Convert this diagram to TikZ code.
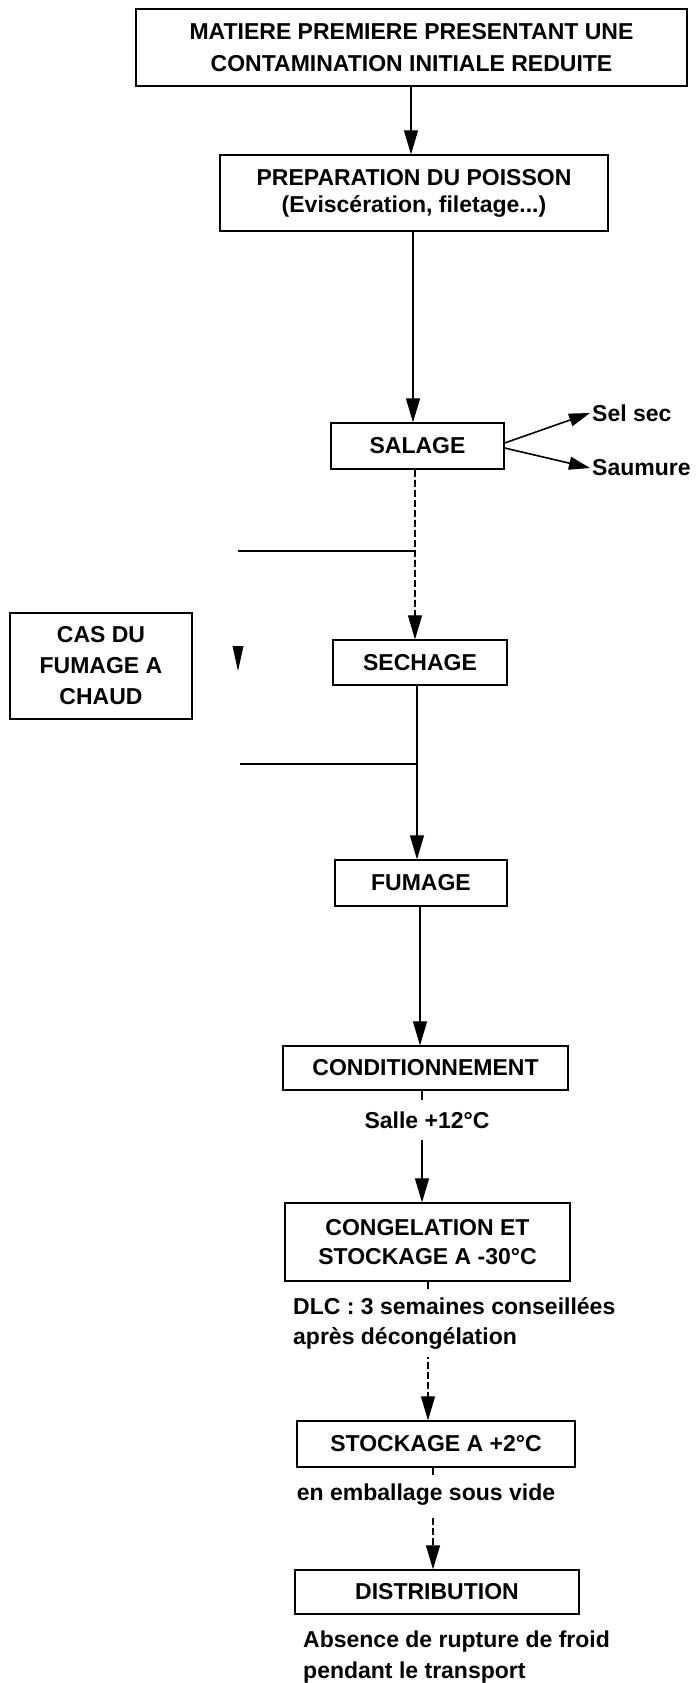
\documentclass[tikz,border=0pt]{standalone}
\usepackage{fontspec}
\setmainfont{Liberation Sans}
\usetikzlibrary{arrows.meta}
\begin{document}
\begin{tikzpicture}[x=1pt,y=-1pt,
  f/.style={font=\fontsize{23}{#1}\selectfont\bfseries},
  f/.default=31,
  box/.style={draw,line width=1.3pt,inner sep=0pt,align=center,f},
  arr/.style={line width=1.1pt,-{Triangle[width=14pt,length=24pt]}},
  sarr/.style={line width=1.6pt,-{Triangle[width=13pt,length=21pt]}},
  ln/.style={line width=1.1pt},
  dsh/.style={dash pattern=on 7pt off 3pt},
  lbl/.style={inner sep=0pt,f}
]
\useasboundingbox (0,0) rectangle (696,1683);

% boxes
\node[box,f=32,minimum width=551pt,minimum height=77pt] (top) at (411.5,47.5)
  {MATIERE PREMIERE PRESENTANT UNE\\CONTAMINATION INITIALE REDUITE};
\node[box,f=27,minimum width=388pt,minimum height=76pt] (prep) at (414,193)
  {PREPARATION DU POISSON\\(Eviscération, filetage...)};
\node[box,minimum width=173pt,minimum height=46pt] (salage) at (417.5,446) {SALAGE};
\node[box,minimum width=174pt,minimum height=45pt] (sechage) at (420,662.5) {SECHAGE};
\node[box,f=31,minimum width=182pt,minimum height=106pt] (cas) at (101,666)
  {CAS DU\\FUMAGE A\\CHAUD};
\node[box,minimum width=172pt,minimum height=46pt] (fumage) at (421,883) {FUMAGE};
\node[box,minimum width=285pt,minimum height=44pt] (cond) at (425.5,1068) {CONDITIONNEMENT};
\node[box,f=29,minimum width=285pt,minimum height=78pt] (cong) at (427.5,1242)
  {CONGELATION ET\\STOCKAGE A -30°C};
\node[box,minimum width=278pt,minimum height=46pt] (stock) at (436,1444) {STOCKAGE A +2°C};
\node[box,minimum width=284pt,minimum height=44pt] (dist) at (437,1592) {DISTRIBUTION};

% side labels
\node[lbl,anchor=west,inner sep=2pt] (selsec) at (590,413) {Sel sec};
\node[lbl,anchor=west,inner sep=2pt] (saumure) at (590,468) {Saumure};

% x positions of the main line
\coordinate (x1) at (411,0);
\coordinate (x2) at (413,0);
\coordinate (x3) at (415,0);
\coordinate (x4) at (417,0);
\coordinate (x5) at (420,0);
\coordinate (x6) at (422,0);
\coordinate (x7) at (428,0);
\coordinate (x8) at (433,0);

% connectors
\draw[arr] (top.south -| x1) -- (prep.north -| x1);
\draw[arr] (prep.south -| x2) -- (salage.north -| x2);
\draw[sarr] ([yshift=3pt]salage.east) -- (selsec.west);
\draw[sarr] ([yshift=-2pt]salage.east) -- (saumure.west);
\draw[arr,dsh] (salage.south -| x3) -- (sechage.north -| x3);
\draw[arr] (sechage.south -| x4) -- (fumage.north -| x4);
\draw[arr] (fumage.south -| x5) -- (cond.north -| x5);
\draw[arr] (cond.south -| x6) -- (cong.north -| x6);
\draw[arr,dsh] (cong.south -| x7) -- (stock.north -| x7);
\draw[arr,dsh] (stock.south -| x8) -- (dist.north -| x8);

% branch lines of the hot-smoking case
\coordinate (h1a) at (238,551);
\coordinate (h2a) at (240,764);
\draw[ln] (h1a) -- (h1a -| x3);
\draw[ln] (h2a) -- (h2a -| x4);
\fill (232.5,646) -- (243.5,646) -- (238,671) -- cycle;

% labels on the line
\node[lbl,fill=white,inner xsep=3pt,inner ysep=12pt] (salle) at (427,1120) {Salle +12°C};
\node[lbl,f=30,fill=white,align=left,anchor=west,inner xsep=0pt,inner ysep=8pt] (dlc) at (293,1323)
  {DLC : 3 semaines conseillées\\après décongélation};
\node[lbl,fill=white,inner xsep=3pt,inner ysep=9pt] (emb) at (426,1495) {en emballage sous vide};
\node[lbl,f=31,align=left,anchor=west] (abs) at (303,1657)
  {Absence de rupture de froid\\pendant le transport};
\end{tikzpicture}
\end{document}
